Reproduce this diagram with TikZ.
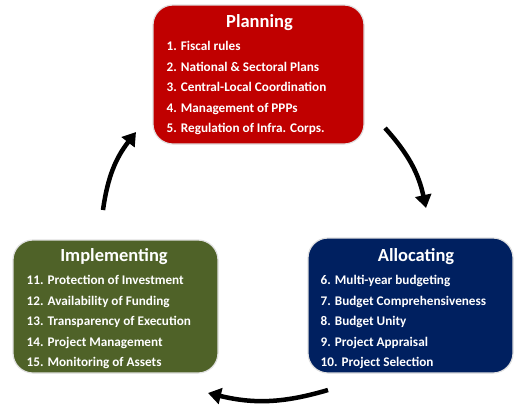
\documentclass[tikz,border=0pt]{standalone}
\usepackage{fontspec}
\setmainfont{Carlito}
\usetikzlibrary{positioning}
\usetikzlibrary{arrows.meta}
\definecolor{planColor}{RGB}{192,0,0}
\definecolor{allocColor}{RGB}{0,32,96}
\definecolor{implColor}{RGB}{79,98,40}

\begin{document}
\begin{tikzpicture}[x=1pt,y=-1pt,
  stage/.style={rectangle, rounded corners=20pt, draw=black!12, line width=1.2pt, inner sep=0pt},
  title/.style={text=white, anchor=base, font=\bfseries\fontsize{18.5}{20}\selectfont},
  item/.style={text=white, anchor=base west, inner sep=0pt, font=\bfseries\fontsize{13.2}{14}\selectfont},
  cycle/.style={line width=4.5pt, -{Triangle[length=13pt,width=16pt]}}]
\useasboundingbox (0,0) rectangle (514,408);

% the three stages
\node [stage, fill=planColor, minimum width=211pt, minimum height=139pt] (planning) at (258.5,74.5) {};
\node [stage, fill=allocColor, minimum width=205pt, minimum height=135pt] (allocating) at (410.5,305.5) {};
\node [stage, fill=implColor, minimum width=205pt, minimum height=133pt] (implementing) at (115.5,306.5) {};

\node [title] (planTitle) at (259.5,27) {Planning};
\node [title] (allocTitle) at (416,261) {Allocating};
\node [title] (implTitle) at (114,261) {Implementing};

\foreach \txt [count=\i] in {1. Fiscal rules, 2. National \& Sectoral Plans, 3. Central-Local Coordination, 4. Management of PPPs, 5. Regulation of Infra. Corps.}
  \node [item] (plan\i) at (166.5,30.5+20.4*\i) {\txt};
\foreach \txt [count=\i] in {6. Multi-year budgeting, 7. Budget Comprehensiveness, 8. Budget Unity, 9. Project Appraisal, 10. Project Selection}
  \node [item] (alloc\i) at (320.5,264.5+20.4*\i) {\txt};
\foreach \txt [count=\i] in {11. Protection of Investment, 12. Availability of Funding, 13. Transparency of Execution, 14. Project Management, 15. Monitoring of Assets}
  \node [item] (impl\i) at (26.5,264.5+20.4*\i) {\txt};

% arrows of the cycle
\coordinate (planOut) at (385,128);
\coordinate (allocIn) at (426,208);
\coordinate (allocOut) at (328,390);
\coordinate (implIn) at (208,393);
\coordinate (implOut) at (103,210);
\coordinate (planIn) at (136,132);

\draw [cycle] (planOut) to[bend left=15] (allocIn);
\draw [cycle] (allocOut) to[bend left=15] (implIn);
\draw [cycle] (implOut) to[bend left=15] (planIn);
\end{tikzpicture}
\end{document}
